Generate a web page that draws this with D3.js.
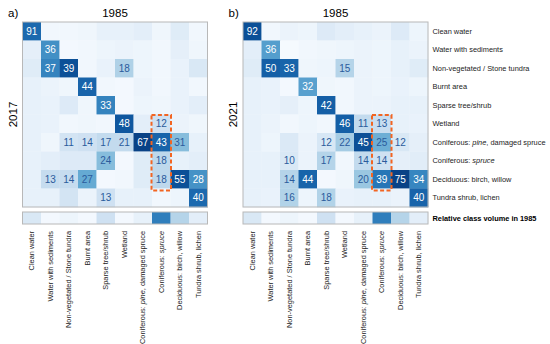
<!DOCTYPE html>
<html>
<head>
<meta charset="utf-8">
<script src="https://cdn.jsdelivr.net/npm/d3@7"></script>
<style>
  body { margin: 0; background: #fff; }
  svg { font-family: "Liberation Sans", Arial, sans-serif; }
</style>
</head>
<body>
<script>
// class names (rows = later year, columns = 1985)
var classes = [
  "Clean water", "Water with sediments", "Non-vegetated / Stone tundra",
  "Burnt area", "Sparse tree/shrub", "Wetland",
  "Coniferous: |pine|, damaged spruce", "Coniferous: |spruce|",
  "Deciduous: birch, willow", "Tundra shrub, lichen"
];

// percentages printed in the cells (values < 10 are not printed, estimated)
var pct2017 = [
  [91, 1, 1, 1, 3, 3, 4, 1, 5, 1],
  [4, 36, 1, 1, 2, 2, 2, 1, 4, 1],
  [6, 37, 39, 1, 3, 18, 2, 1, 3, 7],
  [3, 2, 1, 44, 1, 1, 2, 1, 3, 1],
  [3, 3, 6, 1, 33, 1, 2, 1, 3, 4],
  [3, 3, 1, 1, 1, 48, 4, 12, 2, 1],
  [3, 1, 11, 14, 17, 21, 67, 43, 31, 3],
  [3, 4, 6, 6, 24, 1, 5, 18, 3, 4],
  [3, 13, 14, 27, 1, 1, 5, 18, 55, 28],
  [3, 3, 8, 2, 13, 3, 3, 1, 2, 40]
];
var pct2021 = [
  [92, 1, 2, 2, 6, 4, 3, 2, 6, 2],
  [4, 36, 1, 1, 1, 2, 2, 2, 3, 2],
  [5, 50, 33, 1, 2, 15, 2, 2, 3, 5],
  [3, 3, 1, 32, 1, 1, 2, 2, 3, 2],
  [3, 3, 4, 2, 42, 1, 2, 2, 3, 3],
  [3, 2, 1, 2, 1, 46, 11, 13, 3, 3],
  [3, 2, 6, 2, 12, 22, 45, 25, 12, 4],
  [3, 3, 10, 2, 17, 1, 14, 14, 4, 5],
  [3, 3, 14, 44, 1, 2, 20, 39, 75, 34],
  [3, 3, 16, 2, 18, 3, 3, 3, 2, 40]
];

// colour intensity of each cell (0..1)
var shade2017 = [
  [0.78, 0.03, 0.03, 0.04, 0.08, 0.08, 0.10, 0.04, 0.12, 0.03],
  [0.09, 0.63, 0.02, 0.03, 0.05, 0.06, 0.05, 0.03, 0.09, 0.04],
  [0.12, 0.68, 0.88, 0.03, 0.07, 0.32, 0.05, 0.03, 0.07, 0.15],
  [0.08, 0.06, 0.04, 0.80, 0.03, 0.02, 0.06, 0.03, 0.07, 0.03],
  [0.08, 0.07, 0.13, 0.04, 0.68, 0.02, 0.05, 0.04, 0.07, 0.10],
  [0.08, 0.07, 0.03, 0.04, 0.03, 0.85, 0.10, 0.20, 0.06, 0.04],
  [0.08, 0.04, 0.18, 0.20, 0.25, 0.25, 0.93, 0.80, 0.43, 0.08],
  [0.08, 0.10, 0.13, 0.13, 0.43, 0.02, 0.12, 0.27, 0.08, 0.10],
  [0.08, 0.24, 0.24, 0.52, 0.02, 0.03, 0.12, 0.27, 0.88, 0.62],
  [0.08, 0.08, 0.18, 0.06, 0.20, 0.08, 0.08, 0.03, 0.05, 0.78]
];
var shade2021 = [
  [0.88, 0.03, 0.06, 0.05, 0.13, 0.10, 0.08, 0.06, 0.13, 0.05],
  [0.10, 0.57, 0.01, 0.03, 0.04, 0.05, 0.06, 0.05, 0.08, 0.06],
  [0.12, 0.82, 0.80, 0.04, 0.05, 0.30, 0.06, 0.05, 0.08, 0.12],
  [0.08, 0.07, 0.02, 0.56, 0.04, 0.03, 0.06, 0.05, 0.07, 0.05],
  [0.08, 0.07, 0.09, 0.05, 0.82, 0.03, 0.06, 0.06, 0.08, 0.08],
  [0.08, 0.06, 0.03, 0.05, 0.03, 0.82, 0.25, 0.23, 0.08, 0.07],
  [0.08, 0.05, 0.14, 0.06, 0.16, 0.35, 0.88, 0.50, 0.15, 0.09],
  [0.08, 0.08, 0.15, 0.06, 0.30, 0.03, 0.25, 0.20, 0.09, 0.11],
  [0.08, 0.08, 0.30, 0.80, 0.02, 0.04, 0.38, 0.73, 0.93, 0.67],
  [0.08, 0.07, 0.31, 0.05, 0.31, 0.07, 0.08, 0.08, 0.06, 0.80]
];

// relative class volume in 1985 (colour intensity)
var volume1985 = [0.15, 0.02, 0.05, 0.02, 0.20, 0.02, 0.08, 0.70, 0.30, 0.10];

var panels = [
  { tag: "a)", year: "2017", pct: pct2017, shade: shade2017, left: 22.5 },
  { tag: "b)", year: "2021", pct: pct2021, shade: shade2021, left: 243 }
];
var highlightCol = 7, highlightRows = [5, 8];

var svgWidth = 550, svgHeight = 344;
var gridTop = 22, size = 185;
var barTop = 212, barH = 12;
var labelSize = "7.4px";

var svg = d3.select("body").append("svg")
    .attr("width", svgWidth)
    .attr("height", svgHeight);

var color = d3.scaleSequential(d3.interpolateBlues).domain([0, 1]);
var band = d3.scaleBand().domain(d3.range(classes.length)).range([0, size]);

// writes a label, the |..| parts in italic
function richText(sel, label) {
  label.split("|").forEach(function (part, i) {
    sel.append("tspan").text(part).style("font-style", i % 2 ? "italic" : "normal");
  });
}

panels.forEach(function (p) {
  var g = svg.append("g").attr("transform", `translate(${p.left}, ${gridTop})`);

  var cells = [];
  p.shade.forEach(function (row, r) {
    row.forEach(function (s, c) {
      cells.push({ r: r, c: c, s: s, v: p.pct[r][c] });
    });
  });

  g.selectAll(".cell")
      .data(cells)
      .enter()
      .append("rect")
      .attr("class", "cell")
      .attr("x", d => band(d.c))
      .attr("y", d => band(d.r))
      .attr("width", band.bandwidth() + 0.3)
      .attr("height", band.bandwidth() + 0.3)
      .attr("fill", d => color(d.s));

  g.selectAll(".val")
      .data(cells.filter(d => d.v >= 10))
      .enter()
      .append("text")
      .attr("class", "val")
      .attr("x", d => band(d.c) + band.bandwidth() / 2)
      .attr("y", d => band(d.r) + band.bandwidth() / 2)
      .attr("dy", "0.36em")
      .attr("text-anchor", "middle")
      .style("font-size", "10px")
      .attr("fill", d => d.s > 0.54 ? "#ffffff" : "#2a5b9c")
      .text(d => d.v);

  g.append("rect")
      .attr("width", size)
      .attr("height", size)
      .attr("fill", "none")
      .attr("stroke", "#b8b8b8")
      .attr("stroke-width", 1);

  // dashed box around the spruce column
  g.append("rect")
      .attr("x", band(highlightCol) - 0.5)
      .attr("y", band(highlightRows[0]) + 0.5)
      .attr("width", band.bandwidth() + 1)
      .attr("height", band(highlightRows[1]) + band.bandwidth() - band(highlightRows[0]) + 1.5)
      .attr("fill", "none")
      .attr("stroke", "#f26522")
      .attr("stroke-width", 2)
      .attr("stroke-dasharray", "4,2.4");

  // relative class volume bar
  var bar = svg.append("g").attr("transform", `translate(${p.left}, ${barTop})`);
  bar.selectAll("rect")
      .data(volume1985)
      .enter()
      .append("rect")
      .attr("x", (d, i) => band(i))
      .attr("width", band.bandwidth() + 0.3)
      .attr("height", barH)
      .attr("fill", d => color(d));
  bar.append("rect")
      .attr("width", size)
      .attr("height", barH)
      .attr("fill", "none")
      .attr("stroke", "#b8b8b8");

  // column labels
  classes.forEach(function (name, i) {
    var t = svg.append("text")
        .attr("transform", `translate(${p.left + band(i) + band.bandwidth() / 2 + 2.6}, 231) rotate(-90)`)
        .attr("text-anchor", "end")
        .style("font-size", labelSize)
        .attr("fill", "#222");
    richText(t, name);
  });

  svg.append("text")
      .attr("x", p.left + size / 2)
      .attr("y", 17)
      .attr("text-anchor", "middle")
      .style("font-size", "11.5px")
      .text("1985");

  svg.append("text")
      .attr("x", p.left - 14.5)
      .attr("y", 17)
      .style("font-size", "11.5px")
      .text(p.tag);

  svg.append("text")
      .attr("transform", `translate(${p.left - 6}, ${gridTop + size / 2}) rotate(-90)`)
      .attr("text-anchor", "middle")
      .style("font-size", "11.5px")
      .text(p.year);
});

// row labels at the right of panel b
var rightX = panels[1].left + size + 4.5;
classes.forEach(function (name, i) {
  var t = svg.append("text")
      .attr("x", rightX)
      .attr("y", gridTop + band(i) + band.bandwidth() / 2)
      .attr("dy", "0.35em")
      .style("font-size", labelSize)
      .attr("fill", "#222");
  richText(t, name);
});

svg.append("text")
    .attr("x", rightX)
    .attr("y", barTop + barH / 2)
    .attr("dy", "0.35em")
    .style("font-size", labelSize)
    .style("font-weight", "bold")
    .text("Relative class volume in 1985");
</script>
</body>
</html>
